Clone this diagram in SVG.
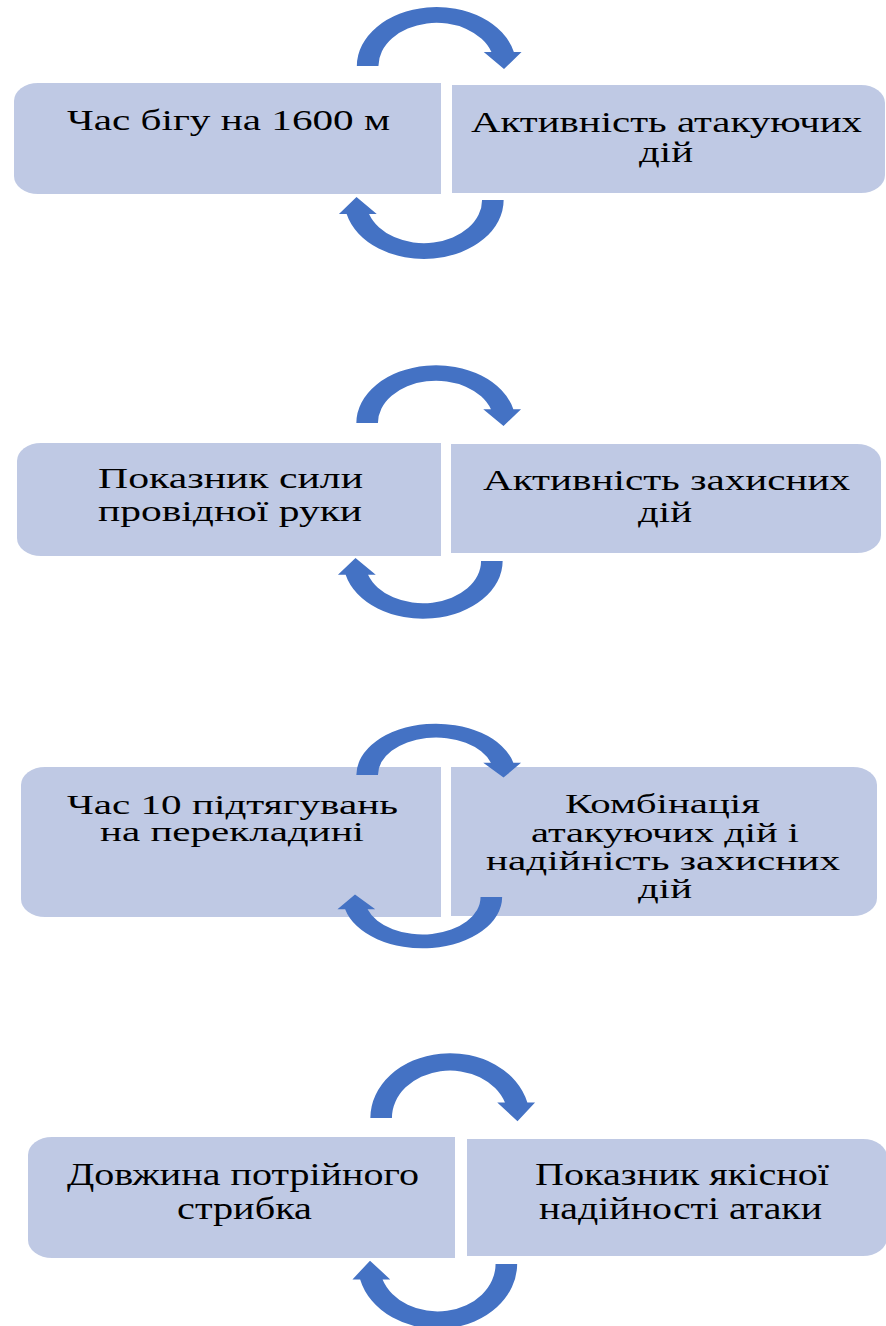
<svg xmlns="http://www.w3.org/2000/svg" width="886" height="1326" viewBox="0 0 886 1326">
<style>
.box{fill:#bfc9e4;}
.t{font-family:"Liberation Serif","Times New Roman",serif;fill:#000;}
.f30{font-size:30px;}
.f28{font-size:28px;}
.f32{font-size:32px;}
.arr{fill:#4472c4;}
</style>
<defs>
<path id="arc" d="M -59 0 A 59 59 0 0 1 57.3 -14 L 63 -14 L 50 3 L 35 -14 L 40.7 -14 A 43 43 0 0 0 -43 0 Z"/>
</defs>
<rect width="886" height="1326" fill="#ffffff"/>
<g id="n1a">
<path class="box" d="M 38 83 H 441 V 194 H 38 A 24 18 0 0 1 14 176 V 101 A 24 18 0 0 1 38 83 Z"/>
<text class="t f30" x="67" y="130" textLength="323" lengthAdjust="spacingAndGlyphs">Час бігу на 1600 м</text>
</g>
<g id="n1b">
<path class="box" d="M 452 85 H 861 A 24 18 0 0 1 885 103 V 175 A 24 18 0 0 1 861 193 H 452 Z"/>
<text class="t f30" x="471" y="132" textLength="391" lengthAdjust="spacingAndGlyphs">Активність атакуючих</text>
<text class="t f30" x="639" y="162" textLength="54" lengthAdjust="spacingAndGlyphs">дій</text>
</g>
<g id="n2a">
<path class="box" d="M 41 443 H 441 V 556 H 41 A 24 18 0 0 1 17 538 V 461 A 24 18 0 0 1 41 443 Z"/>
<text class="t f30" x="98" y="488" textLength="265" lengthAdjust="spacingAndGlyphs">Показник  сили</text>
<text class="t f30" x="98" y="521" textLength="264" lengthAdjust="spacingAndGlyphs">провідної руки</text>
</g>
<g id="n2b">
<path class="box" d="M 451 444 H 857 A 24 18 0 0 1 881 462 V 535 A 24 18 0 0 1 857 553 H 451 Z"/>
<text class="t f30" x="483" y="490" textLength="367" lengthAdjust="spacingAndGlyphs">Активність захисних</text>
<text class="t f30" x="638" y="522" textLength="54" lengthAdjust="spacingAndGlyphs">дій</text>
</g>
<g id="n3a">
<path class="box" d="M 45 767 H 441 V 917 H 45 A 24 18 0 0 1 21 899 V 785 A 24 18 0 0 1 45 767 Z"/>
<text class="t f28" x="67" y="814" textLength="331" lengthAdjust="spacingAndGlyphs">Час 10 підтягувань</text>
<text class="t f28" x="100" y="841" textLength="264" lengthAdjust="spacingAndGlyphs">на перекладині</text>
</g>
<g id="n3b">
<path class="box" d="M 451 767 H 853 A 24 18 0 0 1 877 785 V 898 A 24 18 0 0 1 853 916 H 451 Z"/>
<text class="t f28" x="565" y="813" textLength="195" lengthAdjust="spacingAndGlyphs">Комбінація</text>
<text class="t f28" x="531" y="842" textLength="268" lengthAdjust="spacingAndGlyphs">атакуючих дій і</text>
<text class="t f28" x="486" y="870" textLength="354" lengthAdjust="spacingAndGlyphs">надійність захисних</text>
<text class="t f28" x="638" y="898" textLength="54" lengthAdjust="spacingAndGlyphs">дій</text>
</g>
<g id="n4a">
<path class="box" d="M 52 1137 H 455 V 1258 H 52 A 24 18 0 0 1 28 1240 V 1155 A 24 18 0 0 1 52 1137 Z"/>
<text class="t f32" x="67" y="1185" textLength="352" lengthAdjust="spacingAndGlyphs">Довжина потрійного</text>
<text class="t f32" x="177" y="1219" textLength="135" lengthAdjust="spacingAndGlyphs">стрибка</text>
</g>
<g id="n4b">
<path class="box" d="M 467 1139 H 863 A 24 18 0 0 1 887 1157 V 1238 A 24 18 0 0 1 863 1256 H 467 Z"/>
<text class="t f32" x="535" y="1185" textLength="294" lengthAdjust="spacingAndGlyphs">Показник якісної</text>
<text class="t f32" x="539" y="1219" textLength="283" lengthAdjust="spacingAndGlyphs">надійності атаки</text>
</g>
<g id="connectors" class="arr">
<use href="#arc" transform="translate(436.5,66) scale(1.35,1)"/>
<use href="#arc" transform="translate(424,200) scale(1.35,1) rotate(180)"/>
<use href="#arc" transform="translate(436,423) scale(1.35,0.98)"/>
<use href="#arc" transform="translate(423,561) scale(1.35,0.98) rotate(180)"/>
<use href="#arc" transform="translate(436,775) scale(1.35,0.87)"/>
<use href="#arc" transform="translate(422.5,897) scale(1.35,0.87) rotate(180)"/>
<use href="#arc" transform="translate(450,1118) scale(1.35,1.1)"/>
<use href="#arc" transform="translate(437.5,1264) scale(1.35,1.1) rotate(180)"/>
</g>
</svg>
